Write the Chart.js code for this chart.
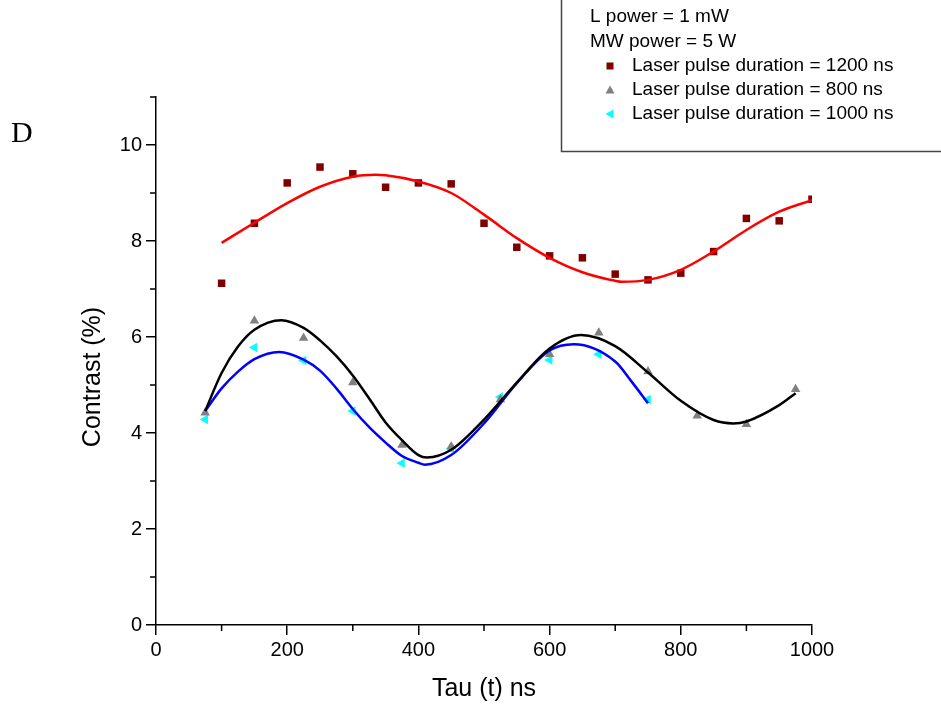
<!DOCTYPE html>
<html>
<head>
<meta charset="utf-8">
<script src="https://cdn.jsdelivr.net/npm/chart.js@4/dist/chart.umd.min.js"></script>
<style>
  body { margin: 0; background: #fff; }
  #chart { display: block; }
</style>
</head>
<body>
<canvas id="chart" width="941" height="704"></canvas>
<script>
// measured points (Tau in ns, contrast in %)
const redX = [100, 150, 200, 250, 300, 350, 400, 450, 500, 550, 600, 650, 700, 750, 800, 850, 900, 950, 1000];
const redY = [7.12, 8.37, 9.21, 9.54, 9.40, 9.12, 9.21, 9.19, 8.37, 7.87, 7.69, 7.65, 7.31, 7.19, 7.33, 7.78, 8.47, 8.42, 8.87];

const grayX = [75, 150, 225, 300, 375, 450, 525, 600, 675, 750, 825, 900, 975];
const grayY = [4.42, 6.34, 5.98, 5.05, 3.75, 3.72, 4.70, 5.64, 6.09, 5.28, 4.36, 4.18, 4.91];

const cyanX = [75, 150, 225, 300, 375, 450, 525, 600, 675, 750];
const cyanY = [4.28, 5.78, 5.51, 4.46, 3.37, 3.67, 4.75, 5.52, 5.64, 4.70];

// fitted curves
const redFitX = [100, 150, 200, 250, 300, 335, 350, 400, 450, 500, 550, 600, 650, 700, 710, 750, 800, 850, 900, 950, 1000];
const redFitY = [7.96, 8.38, 8.79, 9.13, 9.34, 9.38, 9.37, 9.24, 9.00, 8.55, 8.06, 7.65, 7.35, 7.17, 7.15, 7.19, 7.40, 7.78, 8.23, 8.61, 8.85];

const blackFitX = [75, 100, 125, 150, 191, 225, 250, 275, 300, 325, 350, 375, 400, 413, 450, 500, 550, 600, 648, 700, 750, 800, 850, 880, 900, 950, 975];
const blackFitY = [4.46, 5.25, 5.80, 6.15, 6.35, 6.19, 5.93, 5.60, 5.20, 4.72, 4.22, 3.85, 3.54, 3.49, 3.65, 4.28, 5.05, 5.76, 6.04, 5.81, 5.26, 4.67, 4.27, 4.20, 4.24, 4.58, 4.83];

const blueFitX = [75, 100, 125, 150, 188, 225, 250, 275, 300, 325, 350, 375, 400, 410, 450, 500, 550, 600, 637, 700, 725, 750];
const blueFitY = [4.46, 4.93, 5.28, 5.54, 5.69, 5.53, 5.30, 4.93, 4.50, 4.12, 3.80, 3.52, 3.38, 3.34, 3.54, 4.20, 5.04, 5.72, 5.85, 5.49, 5.07, 4.62];

const xMinorTicks = [100, 300, 500, 700, 900];
const yMinorTicks = [1, 3, 5, 7, 9, 11];

const legendNotes = ["L power = 1 mW", "MW power = 5 W"];
const seriesNames = ["Laser pulse duration = 1200 ns", "Laser pulse duration = 800 ns", "Laser pulse duration = 1000 ns"];
const panelLabel = "D";

const FONT = '"Liberation Sans", Arial, sans-serif';

const toPoints = (xs, ys) => xs.map((x, i) => ({ x, y: ys[i] }));

// minor ticks, y title, panel letter and the legend box
const extras = {
  id: "extras",
  afterDraw(chart) {
    const ctx = chart.ctx;
    const xs = chart.scales.x, ys = chart.scales.y;
    const area = chart.chartArea;
    ctx.save();
    ctx.strokeStyle = "#000";
    ctx.lineWidth = 1.5;
    ctx.beginPath();
    xMinorTicks.forEach(v => {
      const px = xs.getPixelForValue(v);
      ctx.moveTo(px, area.bottom);
      ctx.lineTo(px, area.bottom + 6);
    });
    yMinorTicks.forEach(v => {
      const py = ys.getPixelForValue(v);
      ctx.moveTo(area.left, py);
      ctx.lineTo(area.left - 6, py);
    });
    ctx.stroke();

    // y axis title
    ctx.save();
    ctx.translate(93, 377);
    ctx.rotate(-Math.PI / 2);
    ctx.font = "25px " + FONT;
    ctx.fillStyle = "#000";
    ctx.textAlign = "center";
    ctx.textBaseline = "middle";
    ctx.fillText("Contrast (%)", 0, 0);
    ctx.restore();

    // panel letter
    ctx.font = '30px "Liberation Serif", "Times New Roman", serif';
    ctx.fillStyle = "#000";
    ctx.textAlign = "left";
    ctx.textBaseline = "alphabetic";
    ctx.fillText(panelLabel, 11, 142);

    // legend box
    ctx.strokeStyle = "#444";
    ctx.lineWidth = 1.5;
    ctx.beginPath();
    ctx.moveTo(561.5, 0);
    ctx.lineTo(561.5, 151.5);
    ctx.lineTo(941, 151.5);
    ctx.stroke();

    ctx.font = "19px " + FONT;
    ctx.textBaseline = "middle";
    ctx.fillStyle = "#000";
    legendNotes.forEach((t, i) => ctx.fillText(t, 590, 17 + i * 24.5));

    const rows = [66, 90, 114];
    const mx = 610;
    // square
    ctx.fillStyle = "#800000";
    ctx.fillRect(mx - 3.5, rows[0] - 3.5, 7, 7);
    // up triangle
    ctx.fillStyle = "#808080";
    ctx.beginPath();
    ctx.moveTo(mx, rows[1] - 4.5);
    ctx.lineTo(mx + 4.5, rows[1] + 3.5);
    ctx.lineTo(mx - 4.5, rows[1] + 3.5);
    ctx.closePath();
    ctx.fill();
    // left triangle
    ctx.fillStyle = "#00ffff";
    ctx.beginPath();
    ctx.moveTo(mx - 4.5, rows[2]);
    ctx.lineTo(mx + 3.5, rows[2] - 4.5);
    ctx.lineTo(mx + 3.5, rows[2] + 4.5);
    ctx.closePath();
    ctx.fill();

    ctx.fillStyle = "#000";
    seriesNames.forEach((t, i) => ctx.fillText(t, 632, rows[i]));
    ctx.restore();
  }
};

const fitLine = (data, color) => ({
  data,
  showLine: true,
  pointRadius: 0,
  borderColor: color,
  borderWidth: 2.5,
  cubicInterpolationMode: "monotone",
  fill: false,
  order: 0
});

const markers = (data, color, style, radius, rotation) => ({
  data,
  showLine: false,
  pointStyle: style,
  pointRadius: radius,
  pointRotation: rotation,
  backgroundColor: color,
  borderColor: color,
  borderWidth: 0,
  order: 1
});

new Chart(document.getElementById("chart"), {
  type: "scatter",
  data: {
    datasets: [
      markers(toPoints(redX, redY), "#800000", "rect", 5.3, 0),
      markers(toPoints(grayX, grayY), "#808080", "triangle", 5.5, 0),
      markers(toPoints(cyanX, cyanY), "#00ffff", "triangle", 5.5, -90),
      fitLine(toPoints(redFitX, redFitY), "#ff0000"),
      fitLine(toPoints(blackFitX, blackFitY), "#000000"),
      fitLine(toPoints(blueFitX, blueFitY), "#0000ff")
    ]
  },
  options: {
    responsive: false,
    animation: false,
    events: [],
    layout: { padding: { left: 0, right: 129, top: 97, bottom: 0 } },
    plugins: {
      legend: { display: false },
      tooltip: { enabled: false }
    },
    scales: {
      x: {
        type: "linear",
        min: 0,
        max: 1000,
        afterFit: s => { s.height = 79; },
        ticks: { stepSize: 200, color: "#000", font: { family: FONT, size: 20 }, padding: 3, maxRotation: 0, callback: v => String(v) },
        grid: { drawOnChartArea: false, drawTicks: true, tickLength: 10, color: "#000", lineWidth: 1.5 },
        border: { display: true, color: "#000", width: 1.5 },
        title: { display: true, text: "Tau (t) ns", color: "#000", font: { family: FONT, size: 25 }, padding: { top: 0, bottom: 0 } }
      },
      y: {
        type: "linear",
        min: 0,
        max: 11,
        afterFit: s => { s.width = 156; },
        ticks: { stepSize: 2, includeBounds: false, color: "#000", font: { family: FONT, size: 20 }, padding: 4, callback: v => String(v) },
        grid: { drawOnChartArea: false, drawTicks: true, tickLength: 10, color: "#000", lineWidth: 1.5 },
        border: { display: true, color: "#000", width: 1.5 },
        title: { display: false }
      }
    }
  },
  plugins: [extras]
});
</script>
</body>
</html>
